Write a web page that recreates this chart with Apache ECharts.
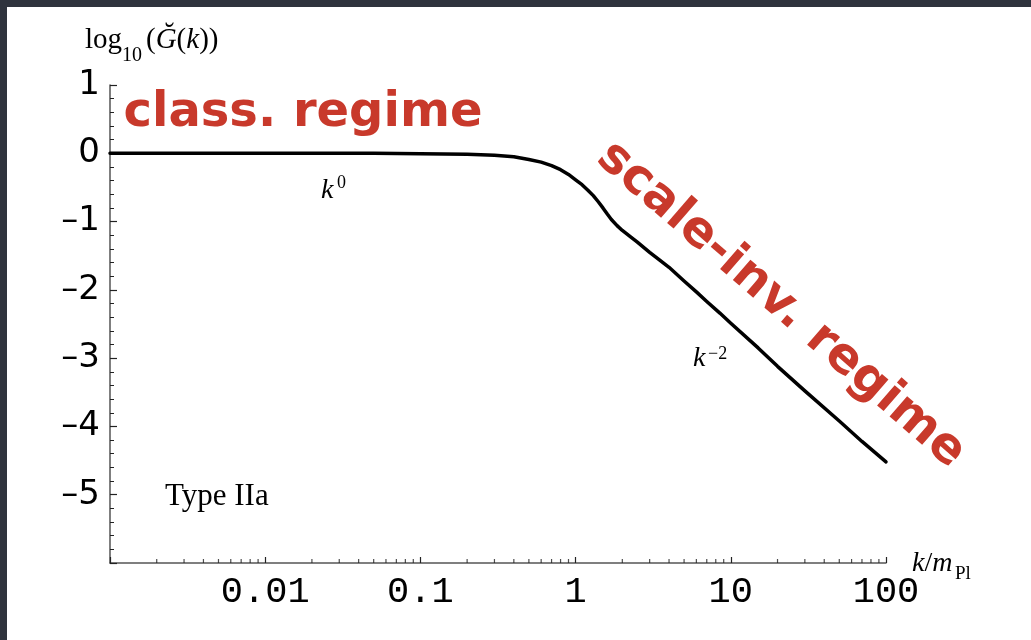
<!DOCTYPE html>
<html>
<head>
<meta charset="utf-8">
<script src="https://cdn.jsdelivr.net/npm/echarts@6/dist/echarts.min.js"></script>
<style>
  html, body { margin: 0; padding: 0; width: 1031px; height: 640px; overflow: hidden; background: #2f333d; }
  #panel { position: absolute; left: 7px; top: 7px; right: 0; bottom: 0; background: #ffffff; }
  #main { position: absolute; left: 0; top: 0; width: 1031px; height: 640px; }
</style>
</head>
<body>
<div id="panel"></div>
<div id="main"></div>
<script>
// ---- data ----
const kValues = [0.001, 0.01, 0.05, 0.1, 0.2, 0.3, 0.4, 0.5, 0.6, 0.7, 0.8, 0.9, 1.0, 1.1, 1.2, 1.3, 1.4, 1.5, 1.6, 1.7, 1.85, 2.0, 2.25, 2.5, 3.0, 3.5, 4.0, 5.0, 6.0, 7.0, 8.5, 10, 15, 20, 30, 50, 70, 100];
const log10G = [0, 0, 0, -0.005, -0.015, -0.03, -0.05, -0.09, -0.13, -0.18, -0.24, -0.31, -0.39, -0.46, -0.54, -0.62, -0.71, -0.80, -0.89, -0.97, -1.06, -1.13, -1.22, -1.30, -1.45, -1.57, -1.67, -1.87, -2.03, -2.17, -2.34, -2.49, -2.85, -3.12, -3.48, -3.92, -4.22, -4.52];
const xDecades = [0.001, 0.01, 0.1, 1, 10, 100];
const xTickLabels = ['', '0.01', '0.1', '1', '10', '100'];
const yTickValues = [1, 0, -1, -2, -3, -4, -5, -6];
const yTickLabels = ['1', '0', '–1', '–2', '–3', '–4', '–5', ''];
const minorMultipliers = [2, 3, 4, 5, 6, 7, 8, 9];

const curve = kValues.map((k, i) => [k, log10G[i]]);
const minorTicks = [];
for (let d = 0; d < xDecades.length - 1; d++) {
  minorMultipliers.forEach(m => minorTicks.push([xDecades[d] * m, -6]));
}

const serif = '"Liberation Serif", "DejaVu Serif", serif';
function T(x, baseline, text, fs, extra) {
  const st = Object.assign({
    text: text, fontSize: fs, fontFamily: serif, fill: '#000',
    align: 'left', verticalAlign: 'middle'
  }, extra || {});
  return { type: 'text', x: x, y: baseline - 0.33 * fs, z: 100, silent: true, style: st };
}
function italRich(fs) {
  return {
    i: { fontStyle: 'italic', fontSize: fs, fontFamily: serif, fill: '#000' },
    r: { fontStyle: 'normal', fontSize: fs, fontFamily: serif, fill: '#000' }
  };
}

const chart = echarts.init(document.getElementById('main'), null, { renderer: 'canvas' });
chart.setOption({
  backgroundColor: 'transparent',
  animation: false,
  grid: { left: 110, right: 145, top: 85, bottom: 77, containLabel: false },
  xAxis: {
    type: 'log', logBase: 10, min: 0.001, max: 100,
    axisLine: { onZero: false, lineStyle: { color: '#555', width: 1.5 } },
    axisTick: { inside: true, length: 6, lineStyle: { color: '#222', width: 1.2 } },
    splitLine: { show: false },
    axisLabel: {
      margin: 11,
      fontFamily: '"Liberation Mono", "DejaVu Sans Mono", monospace',
      fontSize: 37, color: '#000',
      formatter: v => {
        const idx = xDecades.findIndex(d => Math.abs(Math.log10(d) - Math.log10(v)) < 1e-6);
        return idx >= 0 ? xTickLabels[idx] : '';
      }
    }
  },
  yAxis: {
    type: 'value', min: -6, max: 1, interval: 1,
    axisLine: { show: true, onZero: false, lineStyle: { color: '#555', width: 1.5 } },
    axisTick: { show: true, inside: true, length: 7, lineStyle: { color: '#222', width: 1.2 } },
    minorTick: { show: true, splitNumber: 5, length: 4, lineStyle: { color: '#222', width: 1 } },
    splitLine: { show: false },
    axisLabel: {
      margin: 10,
      fontFamily: '"DejaVu Sans", sans-serif', fontSize: 34, color: '#000',
      formatter: v => {
        const idx = yTickValues.indexOf(Math.round(v));
        return idx >= 0 ? yTickLabels[idx] : '';
      }
    }
  },
  series: [
    {
      type: 'line', data: curve, smooth: false,
      showSymbol: false, symbol: 'none', clip: false,
      lineStyle: { color: '#000', width: 3.5, join: 'round', cap: 'round' }
    },
    {
      type: 'scatter', data: minorTicks, silent: true,
      symbol: 'rect', symbolSize: [1.2, 4], symbolOffset: [0, -2],
      itemStyle: { color: '#222' }
    }
  ],
  graphic: [
    T(85, 50, 'log', 29),
    T(122, 62, '10', 20),
    T(146, 50, '{r|(}{i|Ğ}{r|(}{i|k}{r|))}', 29, { rich: italRich(29) }),
    T(321, 200, '{i|k}', 28, { rich: italRich(28) }),
    T(337, 189, '0', 18),
    T(693, 368, '{i|k}', 28, { rich: italRich(28) }),
    T(708, 360, '−2', 18),
    T(912, 573, '{i|k}{r|/}{i|m}', 28, { rich: italRich(28) }),
    T(955, 580, 'Pl', 19),
    T(165, 507, 'Type IIa', 31),
    {
      type: 'text', x: 303, y: 114, z: 100, silent: true,
      style: { text: 'class. regime', fontSize: 48, fontWeight: 'bold', fontFamily: '"DejaVu Sans", sans-serif',
               fill: '#c8392b', align: 'center', verticalAlign: 'middle' }
    },
    {
      type: 'text', x: 781, y: 305, z: 100, silent: true, rotation: -41 * Math.PI / 180,
      style: { text: 'scale-inv. regime', fontSize: 49, fontWeight: 'bold', fontFamily: '"DejaVu Sans", sans-serif',
               fill: '#c8392b', align: 'center', verticalAlign: 'middle' }
    }
  ]
});
</script>
</body>
</html>
